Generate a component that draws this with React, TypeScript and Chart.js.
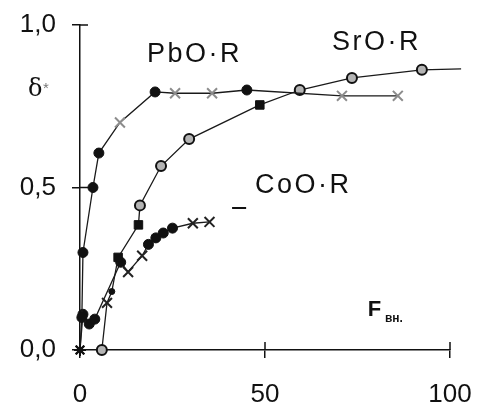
import React, { useEffect, useRef } from 'react';
import { Chart, registerables } from 'chart.js';

Chart.register(...registerables);

// ---- axis ticks ----
const xTickValues = [0, 50, 100];
const yTickValues = [0, 0.5, 1];

// ---- PbO·R series ----
const pboX = [0, 0.5, 0.8, 3.5, 5.1, 10.8, 20.3, 25.7, 35.7, 45.1, 70.8, 85.9];
const pboY = [0, 0.1, 0.3, 0.5, 0.606, 0.7, 0.794, 0.79, 0.79, 0.8, 0.782, 0.782];
const pboMarkers = ['star', 'circle', 'circle', 'circle', 'circle', 'xgray', 'circle', 'xgray', 'xgray', 'circle', 'xgray', 'xgray'];

// ---- SrO·R series ----
const sroX = [5.9, 7.3, 8.6, 10.3, 15.8, 16.2, 21.9, 29.5, 48.6, 59.4, 73.5, 92.4, 103];
const sroY = [0, 0.145, 0.18, 0.285, 0.385, 0.445, 0.566, 0.649, 0.754, 0.8, 0.837, 0.862, 0.865];
const sroMarkers = ['open', 'xblack', 'dot', 'square', 'square', 'open', 'open', 'open', 'square', 'open', 'open', 'open', 'none'];

// ---- CoO·R series ----
const cooX = [0, 0.8, 2.5, 4.0, 11.0, 13.0, 16.8, 18.5, 20.5, 22.5, 25.0, 30.5, 35.0];
const cooY = [0, 0.11, 0.08, 0.095, 0.27, 0.24, 0.29, 0.325, 0.345, 0.36, 0.375, 0.39, 0.394];
const cooMarkers = ['star', 'circle', 'circle', 'circle', 'circle', 'xblack', 'xblack', 'circle', 'circle', 'circle', 'circle', 'xblack', 'xblack'];

// ---- annotation texts (data coordinates) ----
const labelTexts = ['PbO·R', 'SrO·R', 'CoO·R'];
const labelXs = [18.1, 68.1, 47.3];
const labelYs = [0.908, 0.945, 0.505];

const FONT = '"Liberation Sans", Arial, Helvetica, sans-serif';

function markerProps(markers: string[]) {
  const style: any[] = [];
  const bg: string[] = [];
  const border: string[] = [];
  const radius: number[] = [];
  const bw: number[] = [];
  markers.forEach((m) => {
    switch (m) {
      case 'circle':
        style.push('circle'); bg.push('#111'); border.push('#111'); radius.push(5); bw.push(1); break;
      case 'open':
        style.push('circle'); bg.push('#b4b4b4'); border.push('#111'); radius.push(5); bw.push(2); break;
      case 'square':
        style.push('rect'); bg.push('#111'); border.push('#111'); radius.push(6); bw.push(1); break;
      case 'dot':
        style.push('circle'); bg.push('#111'); border.push('#111'); radius.push(3); bw.push(1); break;
      case 'star':
        style.push('star'); bg.push('#111'); border.push('#111'); radius.push(6); bw.push(2); break;
      case 'xgray':
        style.push('crossRot'); bg.push('#888'); border.push('#8c8c8c'); radius.push(7); bw.push(2); break;
      case 'xblack':
        style.push('crossRot'); bg.push('#222'); border.push('#222'); radius.push(7); bw.push(2); break;
      default:
        style.push('circle'); bg.push('#111'); border.push('#111'); radius.push(0); bw.push(0);
    }
  });
  return {
    pointStyle: style,
    pointBackgroundColor: bg,
    pointBorderColor: border,
    pointRadius: radius,
    pointBorderWidth: bw,
  };
}

function makeDataset(xs: number[], ys: number[], markers: string[]) {
  return {
    data: xs.map((x, i) => ({ x, y: ys[i] })),
    showLine: true,
    borderColor: '#1a1a1a',
    borderWidth: 1.3,
    clip: false as any,
    ...markerProps(markers),
  };
}

const decorPlugin = {
  id: 'decor',
  afterDraw(chart: any) {
    const { ctx, chartArea } = chart;
    const xs = chart.scales.x;
    const ys = chart.scales.y;
    ctx.save();
    // inner halves of tick marks
    ctx.strokeStyle = '#111';
    ctx.lineWidth = 1.5;
    ctx.beginPath();
    yTickValues.forEach((v) => {
      if (v === 0) return;
      const py = ys.getPixelForValue(v);
      ctx.moveTo(chartArea.left, py);
      ctx.lineTo(chartArea.left + 8, py);
    });
    xTickValues.forEach((v) => {
      if (v === 0) return;
      const px = xs.getPixelForValue(v);
      ctx.moveTo(px, chartArea.bottom);
      ctx.lineTo(px, chartArea.bottom - 8);
    });
    ctx.stroke();

    // series labels
    ctx.fillStyle = '#111';
    ctx.textBaseline = 'middle';
    ctx.textAlign = 'left';
    ctx.font = `27px ${FONT}`;
    (ctx as any).letterSpacing = '2.5px';
    labelTexts.forEach((t, i) => {
      ctx.fillText(t, xs.getPixelForValue(labelXs[i]), ys.getPixelForValue(labelYs[i]));
    });
    (ctx as any).letterSpacing = '0px';

    // leader dash near CoO·R
    ctx.beginPath();
    ctx.lineWidth = 2;
    ctx.moveTo(xs.getPixelForValue(41.1), ys.getPixelForValue(0.437));
    ctx.lineTo(xs.getPixelForValue(44.9), ys.getPixelForValue(0.437));
    ctx.stroke();

    // axis title F вн.
    ctx.font = `bold 22px ${FONT}`;
    ctx.fillText('F', xs.getPixelForValue(77.8), ys.getPixelForValue(0.123));
    ctx.font = `bold 12px ${FONT}`;
    ctx.fillText('вн.', xs.getPixelForValue(82.4), ys.getPixelForValue(0.095));

    // y axis title δ*
    ctx.font = `24px "DejaVu Serif", serif`;
    ctx.fillText('δ', chartArea.left - 52, ys.getPixelForValue(0.8));
    ctx.fillStyle = '#777';
    ctx.font = `15px ${FONT}`;
    ctx.fillText('*', chartArea.left - 37, ys.getPixelForValue(0.805));
    ctx.restore();
  },
};

export default function App() {
  const canvasRef = useRef<HTMLCanvasElement | null>(null);

  useEffect(() => {
    document.body.style.margin = '0';
    const canvas = canvasRef.current;
    if (!canvas) return;
    const chart = new Chart(canvas, {
      type: 'scatter',
      data: {
        datasets: [
          makeDataset(pboX, pboY, pboMarkers),
          makeDataset(sroX, sroY, sroMarkers),
          makeDataset(cooX, cooY, cooMarkers),
        ] as any,
      },
      options: {
        responsive: false,
        animation: false,
        layout: { padding: { top: 25, right: 29, bottom: 0, left: 0 } },
        plugins: {
          legend: { display: false },
          tooltip: { enabled: false },
        },
        scales: {
          x: {
            type: 'linear',
            min: 0,
            max: 100,
            afterBuildTicks: (scale: any) => {
              scale.ticks = xTickValues.map((v) => ({ value: v }));
            },
            afterFit: (scale: any) => {
              scale.height = 55;
              scale.paddingLeft = 0;
              scale.paddingRight = 0;
            },
            border: { display: true, color: '#111', width: 1.5 },
            grid: { display: true, drawOnChartArea: false, drawTicks: true, tickLength: 8, color: '#111', lineWidth: 1.5 },
            ticks: {
              color: '#111',
              padding: 21,
              maxRotation: 0,
              font: { family: FONT, size: 26 },
              callback: (v: any) => String(v),
            },
          },
          y: {
            type: 'linear',
            min: 0,
            max: 1,
            afterBuildTicks: (scale: any) => {
              scale.ticks = yTickValues.map((v) => ({ value: v }));
            },
            afterFit: (scale: any) => {
              scale.width = 80;
              scale.paddingTop = 0;
              scale.paddingBottom = 0;
            },
            border: { display: true, color: '#111', width: 1.5 },
            grid: { display: true, drawOnChartArea: false, drawTicks: true, tickLength: 8, color: '#111', lineWidth: 1.5 },
            ticks: {
              color: '#111',
              padding: 16,
              font: { family: FONT, size: 26 },
              callback: (v: any) => Number(v).toFixed(1).replace('.', ','),
            },
          },
        },
      } as any,
      plugins: [decorPlugin],
    });
    return () => chart.destroy();
  }, []);

  return (
    <div style={{ position: 'fixed', left: 0, top: 0, width: 479, height: 405, background: '#fff' }}>
      <canvas ref={canvasRef} width={479} height={405} style={{ display: 'block', width: 479, height: 405 }} />
    </div>
  );
}
